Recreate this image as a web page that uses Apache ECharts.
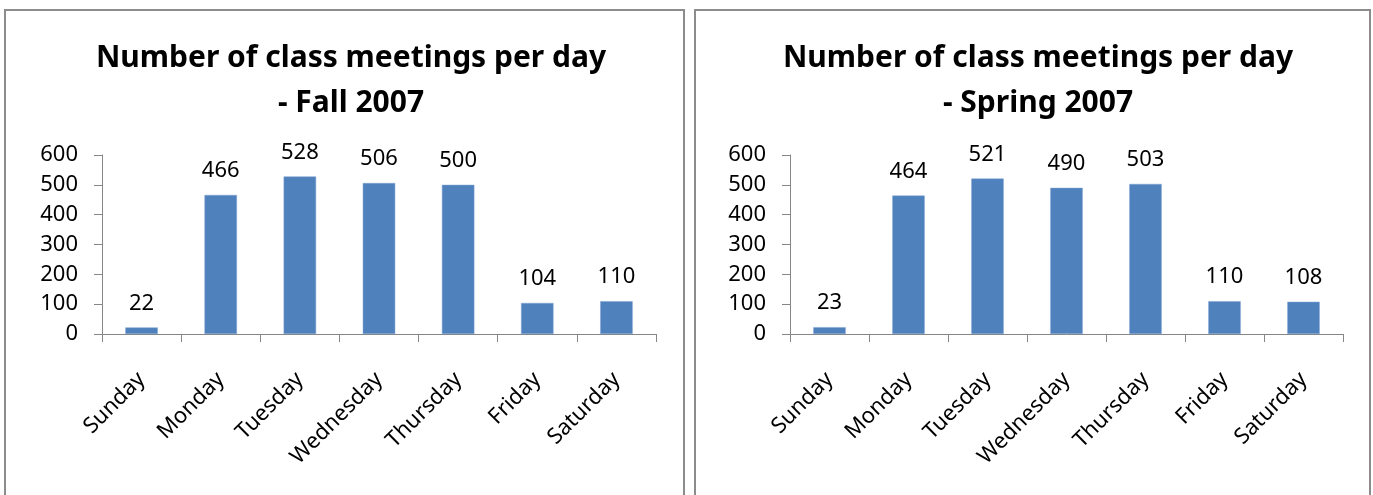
<!DOCTYPE html>
<html>
<head>
<meta charset="utf-8">
<script src="https://cdn.jsdelivr.net/npm/echarts@6/dist/echarts.min.js"></script>
<style>
html,body{margin:0;padding:0;background:#fff;}
#c{width:1373px;height:495px;}
</style>
</head>
<body>
<div id="c"></div>
<script>
const days = ['Sunday','Monday','Tuesday','Wednesday','Thursday','Friday','Saturday'];
const fall2007 = [22, 466, 528, 506, 500, 104, 110];
const spring2007 = [23, 464, 521, 490, 503, 110, 108];
const yTicks = [0, 100, 200, 300, 400, 500, 600];
const titles = ['Number of class meetings per day\n- Fall 2007', 'Number of class meetings per day\n- Spring 2007'];

const FONT = 'Noto Sans';
const axisColor = '#868686';
const barColor = '#4F81BD';

const chart = echarts.init(document.getElementById('c'), null, {renderer: 'canvas'});

function xAxis(i) {
  return {
    type: 'category', gridIndex: i, data: days,
    axisLine: {lineStyle: {color: axisColor, width: 1}},
    axisTick: {show: true, length: 8, lineStyle: {color: axisColor}},
    axisLabel: {interval: 0, rotate: 45, margin: 42, color: '#000', fontFamily: FONT, fontSize: 22}
  };
}
function yAxis(i) {
  return {
    type: 'value', gridIndex: i, min: yTicks[0], max: yTicks[yTicks.length - 1], interval: 100,
    axisLine: {show: true, lineStyle: {color: axisColor, width: 1}},
    axisTick: {show: true, length: 8, lineStyle: {color: axisColor}},
    splitLine: {show: false},
    axisLabel: {margin: 24, color: '#000', fontFamily: FONT, fontSize: 22}
  };
}
function series(i, data) {
  return {
    type: 'bar', xAxisIndex: i, yAxisIndex: i, data: data,
    barCategoryGap: '59%',
    itemStyle: {color: barColor, borderColor: '#7fa3d3', borderWidth: 0.5},
    label: {show: true, position: 'top', distance: 13, color: '#000', fontFamily: FONT, fontSize: 22},
    animation: false
  };
}

chart.setOption({
  animation: false,
  backgroundColor: '#fff',
  title: [
    {text: titles[0], left: 346, top: 31, textAlign: 'center',
     textStyle: {fontFamily: FONT, fontWeight: 'bold', fontSize: 30, lineHeight: 45, color: '#000'}},
    {text: titles[1], left: 1033, top: 31, textAlign: 'center',
     textStyle: {fontFamily: FONT, fontWeight: 'bold', fontSize: 30, lineHeight: 45, color: '#000'}}
  ],
  graphic: [
    {type: 'rect', shape: {x: 5, y: 10, width: 679, height: 500}, style: {fill: 'none', stroke: '#8c8c8c', lineWidth: 2}, silent: true},
    {type: 'rect', shape: {x: 695, y: 10, width: 675, height: 500}, style: {fill: 'none', stroke: '#8c8c8c', lineWidth: 2}, silent: true}
  ],
  grid: [
    {left: 102, width: 554, top: 155, height: 179, containLabel: false},
    {left: 790, width: 553, top: 155, height: 179, containLabel: false}
  ],
  xAxis: [xAxis(0), xAxis(1)],
  yAxis: [yAxis(0), yAxis(1)],
  series: [series(0, fall2007), series(1, spring2007)]
});
</script>
</body>
</html>
